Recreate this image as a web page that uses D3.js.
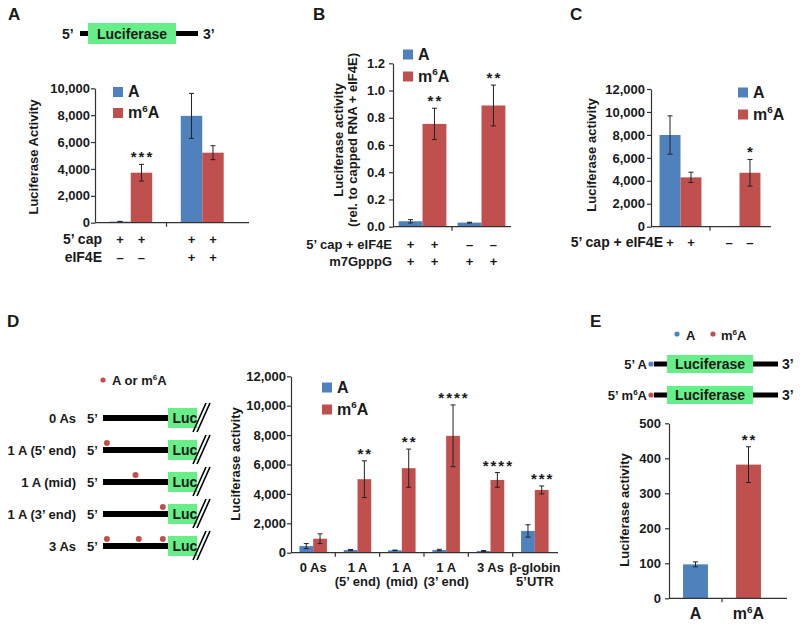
<!DOCTYPE html>
<html>
<head>
<meta charset="utf-8">
<script src="https://cdn.jsdelivr.net/npm/d3@7"></script>
<style>
body { margin: 0; background: #fff; }
svg { font-family: "Liberation Sans", Arial, sans-serif; font-weight: bold; }
</style>
</head>
<body>
<svg id="fig" width="800" height="625"></svg>
<script>
// Data

// Panel A : capped luciferase RNA, +/- eIF4E
var aValA = [80, 7950], aErrA = [20, 1670];
var aValM = [3720, 5210], aErrM = [620, 520];
var aStarsM = ["***", ""];
var aCapRow = ["+", "+", "+", "+"];
var aEifRow = ["\u2013", "\u2013", "+", "+"];
var aTicks = [0, 2000, 4000, 6000, 8000, 10000];

// Panel B : relative to capped RNA + eIF4E, with m7GpppG
var bValA = [0.04, 0.03], bErrA = [0.012, 0.003];
var bValM = [0.755, 0.89], bErrM = [0.115, 0.15];
var bStarsM = ["**", "**"];
var bCapRow = ["+", "+", "\u2013", "\u2013"];
var bGpppRow = ["+", "+", "+", "+"];
var bTicks = [0, 0.2, 0.4, 0.6, 0.8, 1.0, 1.2];

// Panel C
var cValA = [7990, 20], cErrA = [1670, 0];
var cValM = [4300, 4700], cErrM = [450, 1160];
var cStarsM = ["", "*"];
var cCapRow = ["+", "+", "\u2013", "\u2013"];
var cTicks = [0, 2000, 4000, 6000, 8000, 10000, 12000];

// Panel D : position of the A / m6A in the 5' UTR
var dCats = [["0 As"], ["1 A", "(5\u2019 end)"], ["1 A", "(mid)"], ["1 A", "(3\u2019 end)"], ["3 As"], ["\u03b2-globin", "5\u2019UTR"]];
var dValA = [450, 180, 160, 180, 120, 1480];
var dErrA = [170, 40, 20, 50, 30, 420];
var dValM = [950, 5000, 5750, 7950, 4950, 4270];
var dErrM = [330, 1250, 1300, 2100, 500, 270];
var dStarsM = ["", "**", "**", "****", "****", "***"];
var dTicks = [0, 2000, 4000, 6000, 8000, 10000, 12000];
var dRowLabels = ["0 As", "1 A (5\u2019 end)", "1 A (mid)", "1 A (3\u2019 end)", "3 As"];
var dSites = [[], [0.06], [0.5], [0.92], [0.06, 0.55, 0.92]]; // fraction along the leader

// Panel E : single 5' A vs m6A
var eCats = [["A"], ["m6A"]];
var eVal = [97, 382], eErr = [7, 51];
var eStars = ["", "**"];
var eTicks = [0, 100, 200, 300, 400, 500];

var BLUE = "#4f81bd", RED = "#c0504d", GREEN = "#66ee88", INK = "#1a1a1a";

var svg = d3.select("#fig");
svg.append("rect").attr("width", 800).attr("height", 625).attr("fill", "#fff");

// write "m6A" with a raised 6
var sup6 = function(t, fs) {
	t.append("tspan").text("m");
	t.append("tspan").attr("font-size", fs * 0.62).attr("dy", -fs * 0.38).text("6");
	t.append("tspan").attr("dy", fs * 0.38).text("A");
};

var label = function(x, y, txt, fs, anchor) {
	var t = svg.append("text").attr("x", x).attr("y", y).attr("font-size", fs)
		.attr("fill", INK).attr("text-anchor", anchor || "start");
	if (txt == "m6A") sup6(t, fs); else t.text(txt);
	return t;
};

var legend = function(x, y, gap) {
	svg.append("rect").attr("x", x).attr("y", y).attr("width", 10).attr("height", 10).attr("fill", BLUE);
	svg.append("rect").attr("x", x).attr("y", y + gap).attr("width", 10).attr("height", 10).attr("fill", RED);
	label(x + 15, y + 10, "A", 16);
	label(x + 15, y + gap + 10, "m6A", 16);
};

// Grouped bar chart in the Excel style of the figure
var barPanel = function(o) {
	var g = svg.append("g");
	var n = o.series[0].vals.length, ns = o.series.length;
	var y = d3.scaleLinear().domain([0, o.max]).range([o.y0, o.y1]);
	var x = d3.scaleBand().domain(d3.range(n)).range([o.x0, o.x1])
		.paddingInner(o.pad).paddingOuter(o.pad / 2);
	var xs = d3.scaleBand().domain(d3.range(ns)).range([0, x.bandwidth()]);
	var cx = function(i, s) { return x(i) + xs(s) + xs.bandwidth() / 2; };

	o.series.forEach(function(se, s) {
		g.append("g").selectAll("rect").data(se.vals).join("rect")
			.attr("x", function(d, i) { return x(i) + xs(s); })
			.attr("y", function(d) { return y(d); })
			.attr("width", xs.bandwidth())
			.attr("height", function(d) { return y(0) - y(d); })
			.attr("fill", function(d, i) { return Array.isArray(se.color) ? se.color[i] : se.color; });

		var eb = g.append("g").attr("stroke", "#222").attr("stroke-width", 1);
		se.vals.forEach(function(v, i) {
			var e = se.errs[i];
			if (!e) return;
			var c = cx(i, s);
			eb.append("line").attr("x1", c).attr("x2", c).attr("y1", y(v + e)).attr("y2", y(v - e));
			eb.append("line").attr("x1", c - 2.5).attr("x2", c + 2.5).attr("y1", y(v + e)).attr("y2", y(v + e));
			eb.append("line").attr("x1", c - 2.5).attr("x2", c + 2.5).attr("y1", y(v - e)).attr("y2", y(v - e));
		});

		if (se.stars) se.stars.forEach(function(st, i) {
			if (!st) return;
			g.append("text").attr("x", cx(i, s) + 1).attr("y", y(se.vals[i] + se.errs[i]) - 2)
				.attr("text-anchor", "middle").attr("font-size", 15).attr("letter-spacing", 2)
				.attr("fill", INK).text(st);
		});
	});

	// y axis
	var ax = g.append("g").attr("transform", "translate(" + o.x0 + ",0)")
		.call(d3.axisLeft(y).tickValues(o.ticks).tickSize(4).tickSizeOuter(0).tickFormat(o.fmt));
	ax.attr("font-family", null).attr("font-size", null);
	ax.selectAll("path, line").attr("stroke", "#333").attr("stroke-width", 1.2);
	ax.selectAll("text").attr("fill", INK).attr("x", -o.tickPad)
		.style("font-size", (o.tickFs || 13) + "px");

	// x axis with ticks between the groups
	g.append("line").attr("x1", o.x0).attr("x2", o.xEnd).attr("y1", o.y0).attr("y2", o.y0)
		.attr("stroke", "#333").attr("stroke-width", 1.2);
	d3.range(1, n).forEach(function(i) {
		var bx = o.x0 + i * x.step();
		g.append("line").attr("x1", bx).attr("x2", bx).attr("y1", o.y0).attr("y2", o.y0 + 4)
			.attr("stroke", "#333").attr("stroke-width", 1.2);
	});

	// +/- rows under the axis
	(o.rows || []).forEach(function(r) {
		label(o.rowX, r.y, r.label, o.rowFs || 13, "end");
		r.marks.forEach(function(m, k) {
			label(cx(Math.floor(k / ns), k % ns), r.y, m, 13, "middle");
		});
	});

	// category labels
	(o.cats || []).forEach(function(lines, i) {
		lines.forEach(function(l, j) {
			label(x(i) + x.bandwidth() / 2, o.catY[j], l, o.catFs || 13, "middle");
		});
	});

	// y title
	o.ylab.lines.forEach(function(l, j) {
		svg.append("text").attr("transform", "translate(" + (o.ylab.x + j * o.ylab.gap) + "," + o.ylab.y + ") rotate(-90)")
			.attr("text-anchor", "middle").attr("font-size", 13).attr("fill", INK).text(l);
	});
};

var comma = d3.format(",");

// ---------- Panel A ----------
label(8, 20, "A", 17);
label(62, 38.5, "5\u2019", 14);
svg.append("rect").attr("x", 80).attr("y", 31).attr("width", 8).attr("height", 5).attr("fill", "#000");
svg.append("rect").attr("x", 88).attr("y", 23).attr("width", 88).attr("height", 21).attr("fill", GREEN);
label(132, 38.5, "Luciferase", 14, "middle");
svg.append("rect").attr("x", 176).attr("y", 31).attr("width", 22).attr("height", 5).attr("fill", "#000");
label(203, 38.5, "3\u2019", 14);

barPanel({
	x0: 95, x1: 238, xEnd: 249, y0: 222.7, y1: 88.3, max: 10000, pad: 0.4,
	ticks: aTicks, fmt: comma, tickPad: 5,
	series: [
		{vals: aValA, errs: aErrA, color: BLUE},
		{vals: aValM, errs: aErrM, color: RED, stars: aStarsM}
	],
	rowX: 102, rowFs: 14,
	rows: [{label: "5\u2019 cap", y: 244, marks: aCapRow}, {label: "eIF4E", y: 261.5, marks: aEifRow}],
	ylab: {x: 38, y: 157, lines: ["Luciferase Activity"], gap: 0}
});
legend(113, 87, 21);

// ---------- Panel B ----------
label(313, 20, "B", 17);
barPanel({
	x0: 393, x1: 511, xEnd: 511, y0: 226.7, y1: 63.3, max: 1.2, pad: 0.19,
	ticks: bTicks, fmt: d3.format(".1f"), tickPad: 8,
	series: [
		{vals: bValA, errs: bErrA, color: BLUE},
		{vals: bValM, errs: bErrM, color: RED, stars: bStarsM}
	],
	rowX: 392,
	rows: [{label: "5\u2019 cap + eIF4E", y: 249, marks: bCapRow}, {label: "m7GpppG", y: 266, marks: bGpppRow}],
	ylab: {x: 343, y: 140, lines: ["Luciferase activity", "(rel. to capped RNA + eIF4E)"], gap: 14}
});
legend(403, 49.5, 22);

// ---------- Panel C ----------
label(570, 20, "C", 17);
barPanel({
	x0: 651, x1: 769, xEnd: 771, y0: 226.7, y1: 89, max: 12000, pad: 0.29,
	ticks: cTicks, fmt: comma, tickPad: 6,
	series: [
		{vals: cValA, errs: cErrA, color: BLUE},
		{vals: cValM, errs: cErrM, color: RED, stars: cStarsM}
	],
	rowX: 663, rowFs: 14,
	rows: [{label: "5\u2019 cap + eIF4E", y: 247, marks: cCapRow}],
	ylab: {x: 596, y: 155, lines: ["Luciferase activity"], gap: 0}
});
legend(738, 87.5, 22);

// ---------- Panel D ----------
label(7, 327, "D", 17);
svg.append("circle").attr("cx", 103).attr("cy", 380).attr("r", 2.6).attr("fill", RED);
var dl = label(112, 385, "A or ", 13);
dl.append("tspan").text("m");
dl.append("tspan").attr("font-size", 8).attr("dy", -5).text("6");
dl.append("tspan").attr("dy", 5).text("A");

var rowY = d3.scalePoint().domain(d3.range(dRowLabels.length)).range([418, 546]);
var leader = d3.scaleLinear().domain([0, 1]).range([103, 168]);
dRowLabels.forEach(function(l, i) {
	var yc = rowY(i);
	label(76, yc + 5, l, 13, "end");
	label(87, yc + 5, "5\u2019", 13);
	svg.append("rect").attr("x", leader(0)).attr("y", yc - 3).attr("width", leader(1) - leader(0)).attr("height", 6).attr("fill", "#000");
	svg.append("rect").attr("x", leader(1)).attr("y", yc - 10).attr("width", 29).attr("height", 20).attr("fill", GREEN);
	label(172.5, yc + 5, "Luc", 14);
	[0, 4].forEach(function(off) {
		svg.append("line").attr("x1", 193 + off).attr("y1", yc + 14).attr("x2", 206 + off).attr("y2", yc - 15)
			.attr("stroke", "#000").attr("stroke-width", 1.6);
	});
	svg.selectAll(null).data(dSites[i]).enter().append("circle")
		.attr("cx", function(d) { return leader(d); }).attr("cy", yc - 7).attr("r", 3).attr("fill", RED);
});

barPanel({
	x0: 291, x1: 557, xEnd: 558, y0: 552.7, y1: 376.3, max: 12000, pad: 0.38,
	ticks: dTicks, fmt: comma, tickPad: 5,
	series: [
		{vals: dValA, errs: dErrA, color: BLUE},
		{vals: dValM, errs: dErrM, color: RED, stars: dStarsM}
	],
	cats: dCats, catY: [572, 586],
	ylab: {x: 240, y: 464, lines: ["Luciferase activity"], gap: 0}
});
legend(322, 382.5, 22);

// ---------- Panel E ----------
label(590, 327, "E", 17);
svg.append("circle").attr("cx", 677).attr("cy", 334).attr("r", 2.6).attr("fill", BLUE);
label(686, 339.5, "A", 13);
svg.append("circle").attr("cx", 713).attr("cy", 334).attr("r", 2.6).attr("fill", RED);
label(721, 339.5, "m6A", 13);

[["5\u2019 A", BLUE, 364], ["5\u2019 m6A", RED, 395]].forEach(function(r) {
	var yc = r[2];
	var t = svg.append("text").attr("x", 647).attr("y", yc + 5).attr("font-size", 13)
		.attr("fill", INK).attr("text-anchor", "end");
	if (r[0].indexOf("m6A") > 0) { t.append("tspan").text("5\u2019 "); sup6(t, 13); }
	else t.text(r[0]);
	svg.append("circle").attr("cx", 651).attr("cy", yc).attr("r", 2.6).attr("fill", r[1]);
	svg.append("rect").attr("x", 654).attr("y", yc - 2.5).attr("width", 13).attr("height", 5).attr("fill", "#000");
	svg.append("rect").attr("x", 667).attr("y", yc - 9).attr("width", 86).attr("height", 18).attr("fill", GREEN);
	label(710, yc + 5, "Luciferase", 14, "middle");
	svg.append("rect").attr("x", 753).attr("y", yc - 2.5).attr("width", 25).attr("height", 5).attr("fill", "#000");
	label(782, yc + 5, "3\u2019", 14);
});

barPanel({
	x0: 669, x1: 775, xEnd: 787, y0: 598.3, y1: 423.3, max: 500, pad: 0.53,
	ticks: eTicks, fmt: d3.format("d"), tickPad: 8,
	series: [{vals: eVal, errs: eErr, color: [BLUE, RED], stars: eStars}],
	cats: eCats, catY: [619], catFs: 16,
	ylab: {x: 629, y: 510, lines: ["Luciferase activity"], gap: 0}
});
</script>
</body>
</html>
